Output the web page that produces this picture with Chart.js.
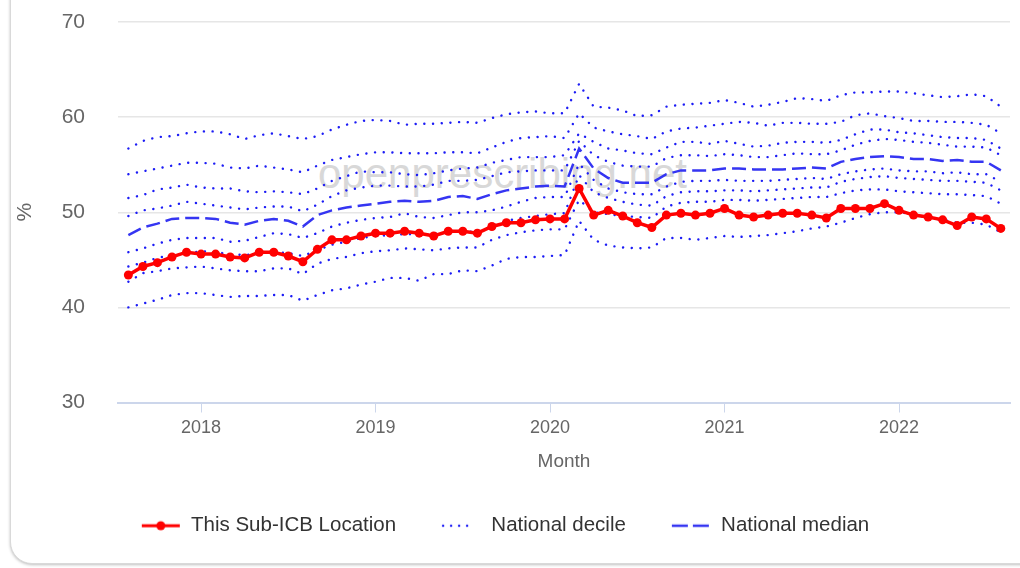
<!DOCTYPE html>
<html>
<head>
<meta charset="utf-8">
<script src="https://cdn.jsdelivr.net/npm/chart.js@4.4.1/dist/chart.umd.min.js"></script>
<style>
  html, body { margin: 0; padding: 0; background: #fff; width: 1020px; height: 568px; overflow: hidden; }
  #card { position: absolute; left: 10px; top: -30px; width: 1040px; height: 592px; border: 1px solid #d9d9d9;
          border-radius: 22px; box-shadow: 0 1px 3px rgba(0,0,0,0.25); background: #fff; }
  #watermark { position: absolute; left: 318px; top: 153px; font: 42px 'Liberation Sans', Arial, sans-serif;
               line-height: 1; color: #d8d8d8; white-space: nowrap; }
  #wrap { position: absolute; left: 0; top: 0; width: 1020px; height: 568px; }
</style>
</head>
<body>
<div id="card"></div>
<div id="watermark">openprescribing.net</div>
<div id="wrap"><canvas id="chart" width="1020" height="568"></canvas></div>
<script>
const months = [
  '2017-08', '2017-09', '2017-10', '2017-11', '2017-12',
  '2018-01', '2018-02', '2018-03', '2018-04', '2018-05', '2018-06', '2018-07', '2018-08', '2018-09', '2018-10', '2018-11', '2018-12',
  '2019-01', '2019-02', '2019-03', '2019-04', '2019-05', '2019-06', '2019-07', '2019-08', '2019-09', '2019-10', '2019-11', '2019-12',
  '2020-01', '2020-02', '2020-03', '2020-04', '2020-05', '2020-06', '2020-07', '2020-08', '2020-09', '2020-10', '2020-11', '2020-12',
  '2021-01', '2021-02', '2021-03', '2021-04', '2021-05', '2021-06', '2021-07', '2021-08', '2021-09', '2021-10', '2021-11', '2021-12',
  '2022-01', '2022-02', '2022-03', '2022-04', '2022-05', '2022-06', '2022-07', '2022-08'
];

const subIcb = [
  43.4, 44.3, 44.7, 45.3, 45.8, 45.6, 45.6, 45.3, 45.2, 45.8, 45.8, 45.4,
  44.8, 46.1, 47.1, 47.1, 47.5, 47.8, 47.8, 48.0, 47.8, 47.5, 48.0, 48.0,
  47.8, 48.5, 48.9, 48.9, 49.2, 49.3, 49.3, 52.5, 49.7, 50.2, 49.6, 48.9,
  48.4, 49.7, 49.9, 49.7, 49.9, 50.4, 49.7, 49.5, 49.7, 49.9, 49.9, 49.7,
  49.4, 50.4, 50.4, 50.4, 50.9, 50.2, 49.7, 49.5, 49.2, 48.6, 49.5, 49.3, 48.3
];

const median = [
  47.6, 48.4, 48.8, 49.3, 49.4, 49.4, 49.3, 48.9, 48.7, 49.1, 49.3, 49.1,
  48.5, 49.7, 50.2, 50.5, 50.7, 50.9, 51.1, 51.2, 51.1, 51.2, 51.6, 51.7,
  51.4, 51.9, 52.3, 52.5, 52.7, 52.8, 52.7, 56.7, 54.6, 53.6, 53.1, 53.1,
  53.1, 54.0, 54.4, 54.4, 54.4, 54.6, 54.6, 54.5, 54.5, 54.5, 54.6, 54.7,
  54.6, 55.3, 55.6, 55.8, 55.9, 55.8, 55.6, 55.6, 55.4, 55.5, 55.3, 55.3, 54.4
];

const p90 = [
  56.7, 57.5, 57.9, 58.0, 58.3, 58.5, 58.5, 58.2, 57.7, 58.1, 58.3, 58.0,
  57.7, 58.0, 58.7, 59.2, 59.6, 59.7, 59.6, 59.2, 59.3, 59.3, 59.4, 59.5,
  59.4, 59.9, 60.3, 60.5, 60.6, 60.4, 60.4, 63.5, 61.1, 61.0, 60.7, 60.1,
  60.2, 61.1, 61.3, 61.4, 61.5, 61.8, 61.5, 61.1, 61.3, 61.6, 62.0, 61.9,
  61.7, 62.3, 62.6, 62.6, 62.7, 62.7, 62.5, 62.3, 62.1, 62.2, 62.4, 62.2, 61.1
];
const p80 = [
  54.0, 54.3, 54.6, 54.9, 55.2, 55.2, 55.1, 54.7, 54.6, 54.9, 54.7, 54.5,
  54.2, 54.9, 55.5, 55.8, 56.1, 56.3, 56.3, 56.2, 56.2, 56.2, 56.3, 56.3,
  56.2, 56.8, 57.4, 57.8, 57.9, 58.0, 57.8, 60.4, 58.9, 58.5, 58.2, 58.0,
  57.7, 58.5, 58.8, 58.9, 59.1, 59.3, 59.5, 59.4, 59.1, 59.4, 59.4, 59.3,
  59.3, 59.5, 60.2, 60.4, 60.1, 59.9, 59.6, 59.6, 59.5, 59.5, 59.4, 59.2, 58.3
];
const p70 = [
  51.5, 51.8, 52.4, 52.6, 52.9, 52.6, 52.5, 52.5, 52.2, 52.1, 52.2, 52.1,
  51.9, 52.5, 53.3, 53.8, 54.3, 54.2, 54.2, 54.0, 53.9, 54.1, 54.4, 54.6,
  54.7, 55.2, 55.5, 55.8, 55.8, 55.8, 56.0, 58.3, 57.4, 56.7, 56.5, 56.2,
  56.1, 56.8, 57.4, 57.4, 57.2, 57.5, 57.2, 56.9, 57.0, 57.3, 57.4, 57.4,
  57.3, 57.6, 58.2, 58.7, 58.7, 58.4, 58.3, 58.1, 57.9, 57.8, 57.8, 57.6, 56.7
];
const p60 = [
  49.6, 50.2, 50.4, 50.7, 51.1, 50.9, 50.7, 50.5, 50.3, 50.5, 50.6, 50.6,
  50.1, 50.8, 51.7, 52.3, 52.6, 52.8, 52.8, 52.7, 52.7, 52.9, 53.3, 53.3,
  53.4, 53.8, 54.2, 54.3, 54.4, 54.4, 54.4, 57.5, 56.0, 55.3, 54.9, 54.8,
  54.8, 55.7, 56.0, 56.0, 55.9, 56.1, 56.0, 55.8, 55.8, 56.0, 56.2, 56.1,
  56.1, 56.5, 57.1, 57.5, 57.7, 57.6, 57.4, 57.3, 57.1, 56.9, 56.9, 56.8, 56.0
];
const p40 = [
  45.8, 46.2, 46.7, 47.1, 47.3, 47.3, 47.3, 46.9, 47.0, 47.4, 47.8, 47.7,
  47.3, 47.8, 48.5, 48.9, 49.2, 49.4, 49.5, 49.9, 49.5, 49.4, 49.7, 50.0,
  50.0, 50.2, 50.6, 51.1, 51.5, 51.6, 51.6, 55.1, 53.4, 52.5, 52.1, 51.9,
  51.9, 52.7, 53.2, 53.3, 53.3, 53.4, 53.3, 53.3, 53.3, 53.4, 53.5, 53.6,
  53.5, 54.0, 54.3, 54.5, 54.6, 54.4, 54.3, 54.3, 54.1, 54.2, 54.0, 54.0, 53.2
];
const p30 = [
  44.3, 44.7, 45.2, 45.5, 45.7, 45.9, 45.8, 45.6, 45.5, 45.7, 45.8, 45.7,
  45.4, 46.0, 46.6, 46.9, 47.3, 47.5, 47.6, 47.7, 47.7, 47.7, 47.9, 48.0,
  47.9, 48.5, 49.1, 49.4, 49.6, 49.8, 49.9, 53.9, 52.1, 51.5, 51.1, 50.8,
  50.7, 51.7, 52.1, 52.2, 52.2, 52.3, 52.3, 52.2, 52.3, 52.4, 52.5, 52.6,
  52.6, 53.2, 53.5, 53.7, 53.8, 53.6, 53.5, 53.4, 53.3, 53.3, 53.2, 53.1, 52.3
];
const p20 = [
  42.7, 43.6, 43.8, 44.1, 44.2, 44.3, 44.1, 43.9, 43.8, 43.8, 44.1, 44.1,
  43.5, 44.6, 45.1, 45.3, 45.7, 45.9, 46.0, 46.2, 46.1, 46.0, 46.2, 46.3,
  46.3, 47.1, 47.6, 47.9, 48.1, 48.2, 48.2, 51.3, 50.0, 49.8, 49.6, 49.5,
  49.4, 50.6, 51.0, 51.1, 51.1, 51.3, 51.3, 51.2, 51.3, 51.4, 51.5, 51.6,
  51.6, 52.0, 52.3, 52.4, 52.4, 52.2, 52.1, 52.0, 51.9, 51.9, 51.8, 51.7, 50.9
];
const p10 = [
  40.0, 40.4, 40.8, 41.3, 41.5, 41.5, 41.3, 41.1, 41.2, 41.2, 41.3, 41.3,
  40.7, 41.3, 41.8, 42.0, 42.4, 42.7, 43.1, 43.1, 42.8, 43.5, 43.5, 43.9,
  43.8, 44.4, 45.1, 45.3, 45.3, 45.4, 45.5, 49.1, 47.1, 46.5, 46.3, 46.2,
  46.3, 47.3, 47.3, 47.1, 47.3, 47.5, 47.4, 47.5, 47.6, 47.8, 48.0, 48.3,
  48.5, 48.9, 49.4, 49.8, 50.0, 50.0, 49.8, 49.4, 49.2, 48.9, 48.9, 48.7, 47.9
];
const deciles = [p90, p80, p70, p60, p40, p30, p20, p10];

const yTicks = [30, 40, 50, 60, 70];

const FONT = "'Liberation Sans', Arial, Helvetica, sans-serif";
const RED = '#ff0000';
const BLUE_DOT = '#1c1cf5';
const BLUE_DASH = '#3535f2';

// month string -> fractional year, so the linear x axis places it
function monthToX(m) {
  const [yr, mo] = m.split('-').map(Number);
  return yr + (mo - 1) / 12;
}
function toPoints(values) {
  return months.map((m, i) => ({ x: monthToX(m), y: values[i] }));
}

// small legend symbols
function makeSymbol(draw) {
  const c = document.createElement('canvas');
  c.width = 40; c.height = 16;
  draw(c.getContext('2d'));
  return c;
}
const symRed = makeSymbol(ctx => {
  ctx.strokeStyle = RED; ctx.lineWidth = 3;
  ctx.beginPath(); ctx.moveTo(1, 8); ctx.lineTo(39, 8); ctx.stroke();
  ctx.fillStyle = RED; ctx.beginPath(); ctx.arc(20, 8, 4.5, 0, Math.PI * 2); ctx.fill();
});
const symDecile = makeSymbol(ctx => {
  ctx.fillStyle = BLUE_DOT;
  [2, 10, 18, 26].forEach(x => { ctx.beginPath(); ctx.arc(x, 8, 1.2, 0, Math.PI * 2); ctx.fill(); });
});
const symMedian = makeSymbol(ctx => {
  ctx.strokeStyle = BLUE_DASH; ctx.lineWidth = 2.5;
  ctx.setLineDash([16, 5]);
  ctx.beginPath(); ctx.moveTo(1, 8); ctx.lineTo(39, 8); ctx.stroke();
});
const legendSymbols = { 0: symRed, 1: symMedian, 2: symDecile };
const legendRank = { 0: 0, 2: 1, 1: 2 };

const datasets = [
  {
    label: 'This Sub-ICB Location',
    data: toPoints(subIcb),
    borderColor: RED, backgroundColor: RED,
    borderWidth: 3.5, pointRadius: 4.5, pointBorderWidth: 0,
    pointBackgroundColor: RED, tension: 0
  },
  {
    label: 'National median',
    data: toPoints(median),
    borderColor: BLUE_DASH, borderWidth: 2.5, borderDash: [14, 6],
    pointRadius: 0, tension: 0
  }
];
deciles.forEach(d => {
  datasets.push({
    label: 'National decile',
    data: toPoints(d),
    borderColor: BLUE_DOT, borderWidth: 2.4, borderDash: [0.1, 8.6], borderCapStyle: 'round',
    pointRadius: 0, tension: 0
  });
});

new Chart(document.getElementById('chart'), {
  type: 'line',
  data: { datasets },
  options: {
    responsive: false,
    animation: false,
    layout: { padding: { left: 0, right: 10, top: 22, bottom: 22 } },
    plugins: {
      tooltip: { enabled: false },
      legend: {
        position: 'bottom',
        maxHeight: 80,
        labels: {
          usePointStyle: true,
          pointStyleWidth: 40,
          padding: 45,
          color: '#333',
          font: { family: FONT, size: 20.5 },
          filter: item => item.datasetIndex <= 2,
          sort: (a, b) => legendRank[a.datasetIndex] - legendRank[b.datasetIndex],
          generateLabels: chart => Chart.defaults.plugins.legend.labels.generateLabels(chart)
            .map(item => Object.assign(item, { pointStyle: legendSymbols[item.datasetIndex] || symDecile }))
        }
      }
    },
    scales: {
      x: {
        type: 'linear',
        min: 2017.524,
        max: 2022.636,
        afterFit: s => { s.height = 68; },
        ticks: {
          stepSize: 1, includeBounds: false, autoSkip: false, maxRotation: 0,
          padding: 5, color: '#666', font: { family: FONT, size: 18 },
          callback: v => String(v)
        },
        grid: { drawOnChartArea: false, drawTicks: true, tickLength: 10, color: '#ccd6eb', lineWidth: 1 },
        border: { display: true, color: '#ccd6eb', width: 2 },
        title: { display: true, text: 'Month', color: '#666', font: { family: FONT, size: 19 }, padding: { top: 0, bottom: -3 } }
      },
      y: {
        min: yTicks[0],
        max: yTicks[yTicks.length - 1],
        afterFit: s => { s.width = 118; s.paddingTop = 0; s.paddingBottom = 0; },
        afterBuildTicks: s => { s.ticks = yTicks.map(v => ({ value: v })); },
        ticks: { padding: 33, color: '#666', font: { family: FONT, size: 21 } },
        grid: { drawTicks: false, color: '#e6e6e6', lineWidth: 1.5 },
        border: { display: false },
        title: { display: true, text: '%', color: '#666', font: { family: FONT, size: 21 }, padding: { top: 13, bottom: 0 } }
      }
    }
  }
});
</script>
</body>
</html>
